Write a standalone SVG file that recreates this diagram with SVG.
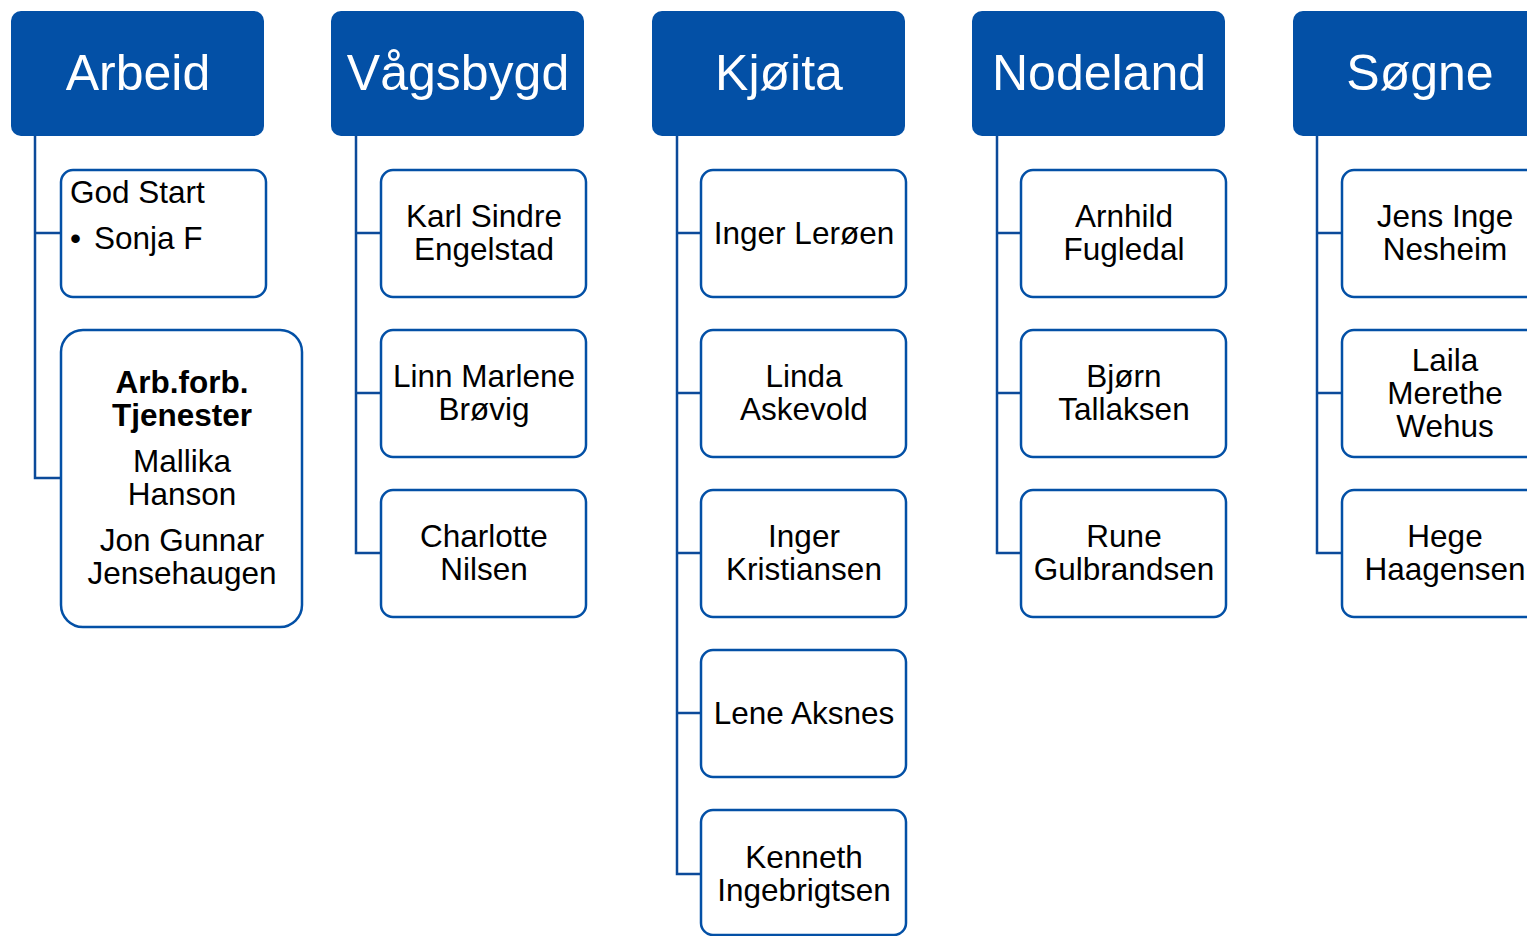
<svg xmlns="http://www.w3.org/2000/svg" width="1527" height="936" viewBox="0 0 1527 936">
<style>
.hdr{fill:#0350A6}
.ht{fill:#fff;font-family:"Liberation Sans",Arial,sans-serif;font-size:50px;text-anchor:middle}
.box{fill:#fff;stroke:#0350A6;stroke-width:2.5}
.t{fill:#000;font-family:"Liberation Sans",Arial,sans-serif;font-size:31.5px;text-anchor:middle}
.tl{fill:#000;font-family:"Liberation Sans",Arial,sans-serif;font-size:31.5px}
.b{font-weight:bold}
.con{fill:none;stroke:#0B4A9A;stroke-width:2.5}
</style>
<rect width="1527" height="936" fill="#fff"/>
<g id="connectors">
<path class="con" d="M35,136V478H61M35,233H61"/>
<path class="con" d="M356,136V553H381M356,233H381M356,393H381"/>
<path class="con" d="M677,136V874H701M677,233H701M677,393H701M677,553H701M677,713H701"/>
<path class="con" d="M997,136V553H1021M997,233H1021M997,393H1021"/>
<path class="con" d="M1317,136V553H1342M1317,233H1342M1317,393H1342"/>
</g>
<g id="h-arbeid"><rect class="hdr" x="11" y="11" width="253" height="125" rx="10"/><text class="ht" x="138" y="90">Arbeid</text></g>
<g id="h-vagsbygd"><rect class="hdr" x="331" y="11" width="253" height="125" rx="10"/><text class="ht" x="458" y="90">Vågsbygd</text></g>
<g id="h-kjoita"><rect class="hdr" x="652" y="11" width="253" height="125" rx="10"/><text class="ht" x="779" y="90">Kjøita</text></g>
<g id="h-nodeland"><rect class="hdr" x="972" y="11" width="253" height="125" rx="10"/><text class="ht" x="1099" y="90">Nodeland</text></g>
<g id="h-sogne"><rect class="hdr" x="1293" y="11" width="253" height="125" rx="10"/><text class="ht" x="1420" y="90">Søgne</text></g>

<g id="n-godstart"><rect class="box" x="61" y="170" width="205" height="127" rx="12"/><text class="tl" x="70" y="203">God Start</text><text class="tl" x="70" y="249">•</text><text class="tl" x="94" y="249">Sonja F</text></g>
<g id="n-arbforb"><rect class="box" x="61" y="330" width="241" height="297" rx="22"/><text class="t b" x="182" y="393">Arb.forb.</text><text class="t b" x="182" y="426">Tjenester</text><text class="t" x="182" y="472">Mallika</text><text class="t" x="182" y="505">Hanson</text><text class="t" x="182" y="551">Jon Gunnar</text><text class="t" x="182" y="584">Jensehaugen</text></g>

<g id="n-karl"><rect class="box" x="381" y="170" width="205" height="127" rx="12"/><text class="t" x="484" y="227">Karl Sindre</text><text class="t" x="484" y="260">Engelstad</text></g>
<g id="n-linn"><rect class="box" x="381" y="330" width="205" height="127" rx="12"/><text class="t" x="484" y="387">Linn Marlene</text><text class="t" x="484" y="420">Brøvig</text></g>
<g id="n-charlotte"><rect class="box" x="381" y="490" width="205" height="127" rx="12"/><text class="t" x="484" y="547">Charlotte</text><text class="t" x="484" y="580">Nilsen</text></g>

<g id="n-ingerl"><rect class="box" x="701" y="170" width="205" height="127" rx="12"/><text class="t" x="804" y="244">Inger Lerøen</text></g>
<g id="n-linda"><rect class="box" x="701" y="330" width="205" height="127" rx="12"/><text class="t" x="804" y="387">Linda</text><text class="t" x="804" y="420">Askevold</text></g>
<g id="n-ingerk"><rect class="box" x="701" y="490" width="205" height="127" rx="12"/><text class="t" x="804" y="547">Inger</text><text class="t" x="804" y="580">Kristiansen</text></g>
<g id="n-lene"><rect class="box" x="701" y="650" width="205" height="127" rx="12"/><text class="t" x="804" y="724">Lene Aksnes</text></g>
<g id="n-kenneth"><rect class="box" x="701" y="810" width="205" height="125" rx="12"/><text class="t" x="804" y="868">Kenneth</text><text class="t" x="804" y="901">Ingebrigtsen</text></g>

<g id="n-arnhild"><rect class="box" x="1021" y="170" width="205" height="127" rx="12"/><text class="t" x="1124" y="227">Arnhild</text><text class="t" x="1124" y="260">Fugledal</text></g>
<g id="n-bjorn"><rect class="box" x="1021" y="330" width="205" height="127" rx="12"/><text class="t" x="1124" y="387">Bjørn</text><text class="t" x="1124" y="420">Tallaksen</text></g>
<g id="n-rune"><rect class="box" x="1021" y="490" width="205" height="127" rx="12"/><text class="t" x="1124" y="547">Rune</text><text class="t" x="1124" y="580">Gulbrandsen</text></g>

<g id="n-jens"><rect class="box" x="1342" y="170" width="205" height="127" rx="12"/><text class="t" x="1445" y="227">Jens Inge</text><text class="t" x="1445" y="260">Nesheim</text></g>
<g id="n-laila"><rect class="box" x="1342" y="330" width="205" height="127" rx="12"/><text class="t" x="1445" y="371">Laila</text><text class="t" x="1445" y="404">Merethe</text><text class="t" x="1445" y="437">Wehus</text></g>
<g id="n-hege"><rect class="box" x="1342" y="490" width="205" height="127" rx="12"/><text class="t" x="1445" y="547">Hege</text><text class="t" x="1445" y="580">Haagensen</text></g>
</svg>
